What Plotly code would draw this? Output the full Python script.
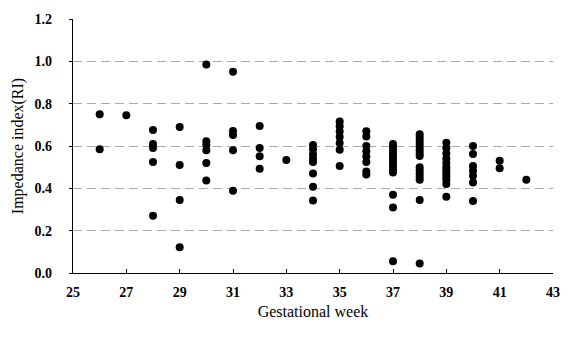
import plotly.graph_objects as go

# Resistance index readings grouped by gestational week
week_26 = [0.75, 0.585]
week_27 = [0.745]
week_28 = [0.675, 0.61, 0.59, 0.525, 0.27]
week_29 = [0.69, 0.51, 0.345, 0.122]
week_30 = [0.985, 0.622, 0.605, 0.58, 0.52, 0.437]
week_31 = [0.951, 0.671, 0.652, 0.58, 0.388]
week_32 = [0.694, 0.59, 0.551, 0.493]
week_33 = [0.534]
week_34 = [0.605, 0.585, 0.56, 0.54, 0.524, 0.47, 0.407, 0.343]
week_35 = [0.716, 0.693, 0.668, 0.642, 0.614, 0.582, 0.506]
week_36 = [0.67, 0.645, 0.60, 0.575, 0.55, 0.525, 0.48, 0.465]
week_37 = [0.61, 0.595, 0.58, 0.565, 0.55, 0.535, 0.52, 0.505, 0.49, 0.475,
           0.37, 0.31, 0.055]
week_38 = [0.655, 0.64, 0.625, 0.61, 0.595, 0.58, 0.565, 0.553,
           0.50, 0.485, 0.47, 0.455, 0.44, 0.345, 0.045]
week_39 = [0.615, 0.59, 0.565, 0.54, 0.52, 0.50, 0.485, 0.47, 0.455, 0.44,
           0.42, 0.36]
week_40 = [0.60, 0.562, 0.506, 0.483, 0.46, 0.428, 0.34]
week_41 = [0.53, 0.495]
week_42 = [0.44]

weeks = list(range(26, 43))
ri_by_week = [week_26, week_27, week_28, week_29, week_30, week_31, week_32,
              week_33, week_34, week_35, week_36, week_37, week_38, week_39,
              week_40, week_41, week_42]

x_ticks = [25, 27, 29, 31, 33, 35, 37, 39, 41, 43]
y_ticks = [0.0, 0.2, 0.4, 0.6, 0.8, 1.0, 1.2]

xs, ys = [], []
for w, vals in zip(weeks, ri_by_week):
    xs.extend([w] * len(vals))
    ys.extend(vals)

serif = "Liberation Serif, Times New Roman, serif"

fig = go.Figure(go.Scatter(
    x=xs, y=ys, mode="markers",
    marker=dict(color="black", size=8, line=dict(width=0)),
    cliponaxis=False, showlegend=False,
))

fig.update_layout(
    width=576, height=338,
    margin=dict(l=73, r=23, t=13, b=65),
    paper_bgcolor="white", plot_bgcolor="white",
    font=dict(family=serif, color="black"),
)

fig.update_xaxes(
    range=[25, 43], tickvals=x_ticks,
    ticktext=[f"<b>{t}</b>" for t in x_ticks],
    showgrid=False, zeroline=False,
    showline=True, linecolor="black", linewidth=1.3,
    ticks="inside", ticklen=4, tickcolor="black",
    ticklabelstandoff=6,
    tickfont=dict(family=serif, size=14),
    title=dict(text="Gestational week", font=dict(family=serif, size=16),
               standoff=6),
)

fig.update_yaxes(
    range=[0, 1.2], tickvals=y_ticks,
    ticktext=[f"<b>{t:.1f}</b>" for t in y_ticks],
    showgrid=True, gridcolor="#aaaaaa", gridwidth=1, griddash="9px,5px",
    zeroline=False,
    showline=True, linecolor="black", linewidth=1.3,
    ticks="outside", ticklen=3, tickcolor="black",
    ticklabelstandoff=14,
    tickfont=dict(family=serif, size=14),
    title=dict(text="Impedance index(RI)", font=dict(family=serif, size=16),
               standoff=6),
)

fig.write_html("out.html")
